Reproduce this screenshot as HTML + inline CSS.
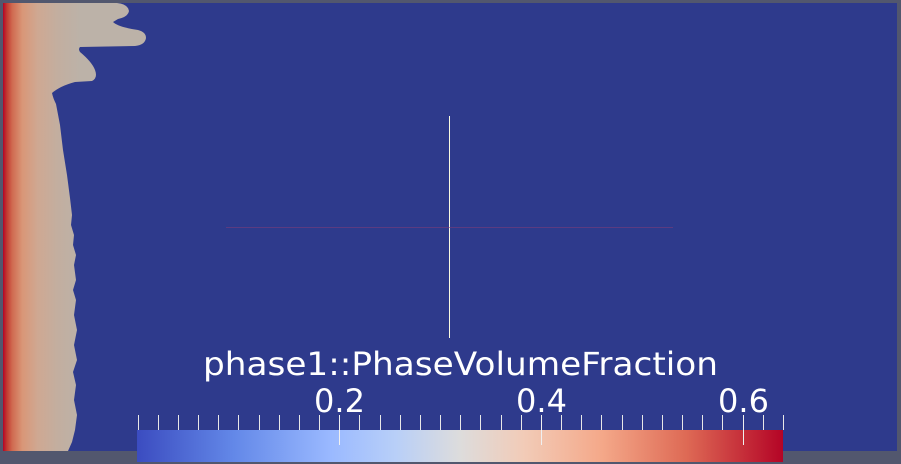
<!DOCTYPE html>
<html><head><meta charset="utf-8"><style>
html,body{margin:0;padding:0;background:#52576e;width:901px;height:464px;overflow:hidden}
svg{display:block}
text{font-family:"DejaVu Sans","Liberation Sans",sans-serif;fill:#fff}
</style></head><body>
<svg width="901" height="464">
<defs>
<linearGradient id="phase" gradientUnits="userSpaceOnUse" x1="3" x2="80" y1="0" y2="0">
<stop offset="0" stop-color="#b40426"/>
<stop offset="0.05" stop-color="#c23a30"/>
<stop offset="0.12" stop-color="#d06a50"/>
<stop offset="0.25" stop-color="#d99677"/>
<stop offset="0.45" stop-color="#cfa892"/>
<stop offset="0.7" stop-color="#c3ae9f"/>
<stop offset="1" stop-color="#bcb2a8"/>
</linearGradient>
<linearGradient id="cmap" x1="0" x2="1" y1="0" y2="0">
<stop offset="0" stop-color="#3b4cc0"/>
<stop offset="0.15" stop-color="#6388e8"/>
<stop offset="0.3" stop-color="#9ab9ff"/>
<stop offset="0.4" stop-color="#b8cff8"/>
<stop offset="0.5" stop-color="#dddcdc"/>
<stop offset="0.6" stop-color="#f2cbb7"/>
<stop offset="0.72" stop-color="#f4a889"/>
<stop offset="0.85" stop-color="#de6a55"/>
<stop offset="1" stop-color="#b40426"/>
</linearGradient>
</defs>
<rect x="3" y="3" width="894" height="448" fill="#2e3a8c"/>
<path fill="url(#phase)" d="M3,3 L117,3 Q128,4 129,11 Q128,17 118,19 L113,22 Q118,27 138,30 Q146,32 146,38 Q145,45 135,46 L80,47 Q78,49 80,52 Q92,62 95,70 Q98,78 92,81 L75,82 Q60,86 52,93 Q53,98 56,104 L60,125 L63,150 L67,175 L70,198 L72,215 L71,225 L74,235 L73,245 L76,255 L74,265 L76,280 L73,290 L76,300 L74,315 L77,330 L74,345 L77,360 L73,372 L76,385 L74,400 L77,415 L75,430 L72,442 L68,451 L3,451 Z"/>
<line x1="449.5" y1="116" x2="449.5" y2="338" stroke="#fafae0" stroke-width="1"/>
<line x1="226" y1="227.5" x2="673" y2="227.5" stroke="#7a3c7a" stroke-width="1" opacity="0.6"/>
<text x="203" y="375" font-size="32" textLength="515" lengthAdjust="spacingAndGlyphs">phase1::PhaseVolumeFraction</text>
<rect x="137" y="430" width="646" height="32" fill="url(#cmap)"/>
<g id="ticks"></g>
</svg>
<script>
const tickValues=[0.2,0.4,0.6];
const tickLabels=["0.2","0.4","0.6"];
const vmin=0, vmax=0.64;
const x0=137.5, x1=783;
function sx(v){return x0+(v-vmin)/(vmax-vmin)*(x1-x0);}
const g=document.getElementById('ticks');
const ns='http://www.w3.org/2000/svg';
for(let i=0;i<=32;i++){
  const v=i*0.02; const x=Math.round(sx(v))+0.5;
  const l=document.createElementNS(ns,'line');
  
  
  l.setAttribute('x1',x);l.setAttribute('x2',x);l.setAttribute('y1',415);l.setAttribute('y2',430);
  l.setAttribute('stroke','#e8e8e8');l.setAttribute('stroke-width',1);
  g.appendChild(l);
}
tickValues.forEach((v,i)=>{
  const x=Math.round(sx(v))+0.5;
  const l=document.createElementNS(ns,'line');
  
  
  l.setAttribute('x1',x);l.setAttribute('x2',x);l.setAttribute('y1',415);l.setAttribute('y2',445);
  l.setAttribute('stroke','#f0f0f0');l.setAttribute('stroke-width',1);
  g.appendChild(l);
  const t=document.createElementNS(ns,'text');
  
  
  t.setAttribute('x',x);t.setAttribute('y',412);t.setAttribute('font-size','32');
  t.setAttribute('text-anchor','middle');
  t.textContent=tickLabels[i];
  g.appendChild(t);
});
</script>
</body></html>
